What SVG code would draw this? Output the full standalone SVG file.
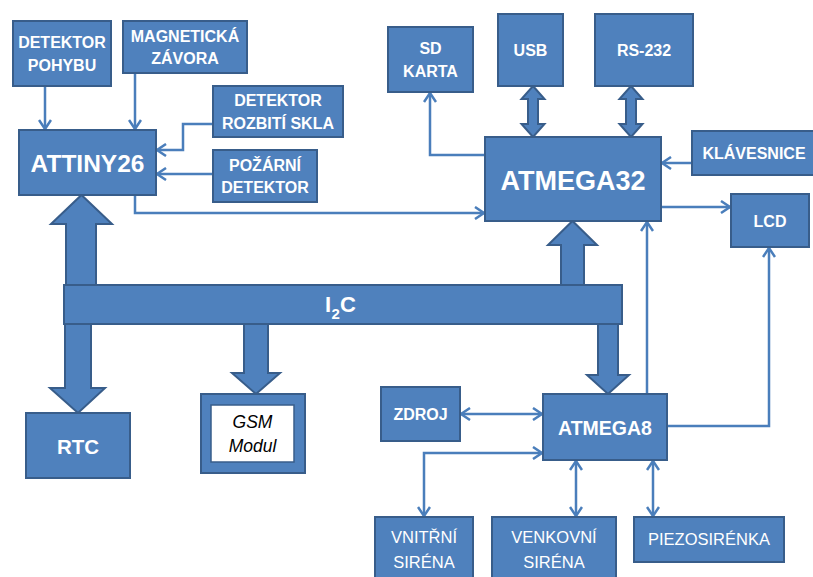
<svg xmlns="http://www.w3.org/2000/svg" width="813" height="577" viewBox="0 0 813 577">
<style>
.box{fill:#4F81BD;stroke:#385D8A;stroke-width:2}
.blk{fill:#4F81BD;stroke:#385D8A;stroke-width:2;stroke-linejoin:miter}
.t{font-family:"Liberation Sans",Arial,sans-serif;font-weight:bold;fill:#fff;text-anchor:middle;font-size:16px}
.tr{font-family:"Liberation Sans",Arial,sans-serif;fill:#fff;text-anchor:middle;font-size:16.5px}
.big{font-size:24.5px}
.con{fill:none;stroke:#4A7EBB;stroke-width:2.5}
</style>
<defs>
<marker id="ah" markerUnits="userSpaceOnUse" markerWidth="14" markerHeight="14" refX="11" refY="7" orient="auto-start-reverse">
<path d="M2,1 L11,7 L2,13" fill="none" stroke="#4A7EBB" stroke-width="2.5"/>
</marker>
</defs>
<rect width="813" height="577" fill="#fff"/>

<g id="connectors">
<path class="con" d="M45,86 V129" marker-end="url(#ah)"/>
<path class="con" d="M135,73 V129" marker-end="url(#ah)"/>
<path class="con" d="M213,124 H183 V150 H157" marker-end="url(#ah)"/>
<path class="con" d="M213,174 H157" marker-end="url(#ah)"/>
<path class="con" d="M135,195 V213 H484" marker-end="url(#ah)"/>
<path class="con" d="M485,155 H430 V93" marker-end="url(#ah)"/>
<path class="con" d="M692,163 H662" marker-end="url(#ah)"/>
<path class="con" d="M661,207 H730" marker-end="url(#ah)"/>
<path class="con" d="M647,394 V222" marker-end="url(#ah)"/>
<path class="con" d="M667,426 H769 V248" marker-end="url(#ah)"/>
<path class="con" d="M461,414 H542" marker-start="url(#ah)" marker-end="url(#ah)"/>
<path class="con" d="M542,453 H424 V516" marker-start="url(#ah)" marker-end="url(#ah)"/>
<path class="con" d="M576,461 V516" marker-start="url(#ah)" marker-end="url(#ah)"/>
<path class="con" d="M653,461 V516" marker-start="url(#ah)" marker-end="url(#ah)"/>
<polygon class="blk" points="533,86 544.5,99 538,99 538,124 544.5,124 533,137 521.5,124 528,124 528,99 521.5,99"/>
<polygon class="blk" points="631,86 642.5,99 636,99 636,124 642.5,124 631,137 619.5,124 626,124 626,99 619.5,99"/>
<polygon class="blk" points="81.5,195 112,224 96,224 96,300 66,300 66,224 51,224"/>
<polygon class="blk" points="65,310 91,310 91,388 105,388 78,413 50,388 65,388"/>
<polygon class="blk" points="244,310 268,310 268,373 280,373 256,394 232,373 244,373"/>
<polygon class="blk" points="572.5,221 597,245 584,245 584,300 561,300 561,245 548,245"/>
<polygon class="blk" points="598,310 618,310 618,375 629,375 608,394 587,375 598,375"/>
</g>

<g id="i2c">
<rect class="box" x="64" y="285" width="558" height="39"/>
<text class="t" style="font-size:22px;text-anchor:start" x="325" y="312">I</text>
<text class="t" style="font-size:15px;text-anchor:start" x="331.5" y="319">2</text>
<text class="t" style="font-size:22px;text-anchor:start" x="340" y="312">C</text>
</g>

<g id="detektor-pohybu">
<rect class="box" x="13" y="21" width="98" height="65"/>
<text class="t" x="62" y="48">DETEKTOR</text>
<text class="t" x="62" y="71">POHYBU</text>
</g>
<g id="magneticka-zavora">
<rect class="box" x="123" y="21" width="124" height="52"/>
<text class="t" x="185" y="42">MAGNETICKÁ</text>
<text class="t" x="185" y="64">ZÁVORA</text>
</g>
<g id="detektor-rozbiti-skla">
<rect class="box" x="213" y="86" width="130" height="51"/>
<text class="t" x="278" y="106">DETEKTOR</text>
<text class="t" x="278" y="129">ROZBITÍ SKLA</text>
</g>
<g id="pozarni-detektor">
<rect class="box" x="213" y="150" width="104" height="52"/>
<text class="t" x="265" y="171">POŽÁRNÍ</text>
<text class="t" x="265" y="193">DETEKTOR</text>
</g>
<g id="attiny26">
<rect class="box" x="19" y="130" width="137" height="65"/>
<text class="t big" x="87.5" y="172">ATTINY26</text>
</g>
<g id="sd-karta">
<rect class="box" x="388" y="27" width="85" height="65"/>
<text class="t" x="430.5" y="54">SD</text>
<text class="t" x="430.5" y="77">KARTA</text>
</g>
<g id="usb">
<rect class="box" x="498" y="14" width="65" height="72"/>
<text class="t" x="530.5" y="56">USB</text>
</g>
<g id="rs232">
<rect class="box" x="595" y="14" width="98" height="72"/>
<text class="t" x="644" y="56">RS-232</text>
</g>
<g id="atmega32">
<rect class="box" x="485" y="137" width="176" height="84"/>
<text class="t" style="font-size:27px" x="573" y="190">ATMEGA32</text>
</g>
<g id="klavesnice">
<rect class="box" x="692" y="131" width="122" height="44"/>
<text class="t" x="754" y="159">KLÁVESNICE</text>
</g>
<g id="lcd">
<rect class="box" x="731" y="194" width="78" height="53"/>
<text class="t" x="770" y="227">LCD</text>
</g>
<g id="rtc">
<rect class="box" x="26" y="413" width="104" height="65"/>
<text class="t" style="font-size:20.5px" x="78" y="454">RTC</text>
</g>
<g id="gsm-modul">
<rect class="box" x="201" y="394" width="104" height="79"/>
<rect x="211" y="405" width="83" height="57" fill="#fff" stroke="#385D8A" stroke-width="1.5"/>
<text x="252.5" y="428" font-family="Liberation Sans,Arial,sans-serif" font-style="italic" font-size="17.5" fill="#000" text-anchor="middle">GSM</text>
<text x="252.5" y="452" font-family="Liberation Sans,Arial,sans-serif" font-style="italic" font-size="17.5" fill="#000" text-anchor="middle">Modul</text>
</g>
<g id="zdroj">
<rect class="box" x="381" y="387" width="79" height="54"/>
<text class="t" x="420.5" y="420">ZDROJ</text>
</g>
<g id="atmega8">
<rect class="box" x="543" y="394" width="124" height="66"/>
<text class="t" style="font-size:19.5px" x="605" y="435">ATMEGA8</text>
</g>
<g id="vnitrni-sirena">
<rect class="box" x="375" y="517" width="98" height="65"/>
<text class="tr" x="424" y="543">VNITŘNÍ</text>
<text class="tr" x="424" y="568">SIRÉNA</text>
</g>
<g id="venkovni-sirena">
<rect class="box" x="492" y="517" width="124" height="65"/>
<text class="tr" x="554" y="543">VENKOVNÍ</text>
<text class="tr" x="554" y="568">SIRÉNA</text>
</g>
<g id="piezosirenka">
<rect class="box" x="634" y="517" width="150" height="45"/>
<text class="tr" x="709" y="545">PIEZOSIRÉNKA</text>
</g>
</svg>
